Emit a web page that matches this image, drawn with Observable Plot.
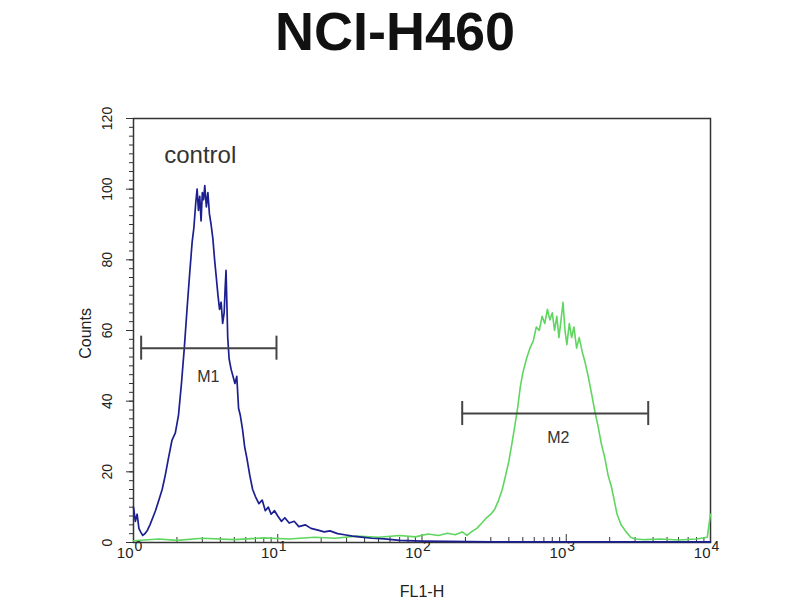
<!DOCTYPE html>
<html>
<head>
<meta charset="utf-8">
<script src="https://cdn.jsdelivr.net/npm/d3@7"></script>
<script src="https://cdn.jsdelivr.net/npm/@observablehq/plot@0.6"></script>
<style>
  body { margin: 0; background: #fff; font-family: "Liberation Sans", Arial, sans-serif; }
  #title { width: 790px; height: 60px; text-align: center; font-weight: bold; font-size: 54px; line-height: 62px; color: #111; overflow: visible; }
  #chart { width: 800px; }
</style>
</head>
<body>
<div id="title">NCI-H460</div>
<div id="chart"></div>
<script>
// control histogram (blue)
const controlX = [1.0,1.03,1.06,1.09,1.12,1.16,1.2,1.25,1.3,1.36,1.42,1.5,1.58,1.66,1.75,1.85,1.95,2.05,2.15,2.25,2.35,2.45,2.55,2.62,2.7,2.76,2.82,2.88,2.94,3.0,3.06,3.12,3.2,3.28,3.36,3.45,3.55,3.65,3.75,3.85,3.95,4.05,4.15,4.25,4.32,4.38,4.45,4.5,4.6,4.75,4.9,5.05,5.2,5.35,5.5,5.7,5.9,6.1,6.4,6.7,7.0,7.4,7.8,8.2,8.6,9.0,9.5,10,10.6,11.2,12,13,14,15.5,17,19,21,23,26,29,33,38,45,55,70,100,150,300,1000,3000,10000]
const controlY = [10,6,8,4,3,2,2.5,3.5,5,7,9,12,15,19,24,29,31,36,45,55,66,76,85,89,96,100,94,98,91,99,97,101,95,99,93,90,86,80,75,70,66,68,62,65,72,77,66,58,52,49,47,45,47,38,36,32,27,24,19,15,13,11,12,9,10,8,9,7.5,6,7,5.5,6,4.5,5,4,3.5,3,3.3,2.5,2.2,1.8,1.5,1.2,1,0.6,0.4,0.3,0.2,0.2,0.2,0.2]

// stained sample histogram (green)
const sampleX = [1.0,1.5,2,3,5,8,12,18,25,35,50,70,90,110,130,150,170,190,205,220,240,260,280,300,320,340,360,380,400,420,440,460,480,500,530,560,590,620,650,680,710,740,770,800,830,860,890,920,950,980,1010,1050,1090,1130,1180,1230,1290,1350,1420,1500,1580,1660,1750,1850,1950,2050,2150,2250,2400,2600,2800,3000,3500,4500,6000,8000,9500,10000]
const sampleY = [0.5,1,0.6,1.2,0.8,1.3,1,1.5,1.2,1.8,1.5,2,1.6,2.4,2,2.6,2.2,3,2,3,4,5.5,7,8,9.5,12,15,19,23,28,33,38,44,48,52,55,57,61,60,64,62,66,63,65,60,64,58,63,68,60,56,62,58,61,55,58,54,51,47,42,37,33,28,24,19,16,12,8,5,3,1.5,1,0.8,1,0.7,1,1.5,8]

// gates
const gateNames = ["M1", "M2"]
const gateStart = [1.13, 190]
const gateEnd = [9.8, 3700]
const gateLevel = [55, 36.5]
const gateLabelX = [3.3, 880]
const gateLabelY = [47, 29.5]

const decades = [1, 10, 100, 1000, 10000]
const exponents = ["0", "1", "2", "3", "4"]
const yTicks = [0, 20, 40, 60, 80, 100, 120]

const control = controlX.map((x, i) => ({x, y: controlY[i]}))
const sample = sampleX.map((x, i) => ({x, y: sampleY[i]}))
const gates = gateNames.map((name, i) => ({name, x1: gateStart[i], x2: gateEnd[i], y: gateLevel[i], lx: gateLabelX[i], ly: gateLabelY[i]}))
const decadeLabels = decades.map((x, i) => ({x, e: exponents[i]}))

const minorX = []
for (let d = 1; d < 10000; d *= 10) for (let k = 2; k <= 9; k++) minorX.push(d * k)
const minorY = d3.range(0, 120.1, 2.5)

const chart = Plot.plot({
  width: 800,
  height: 540,
  marginTop: 58,
  marginBottom: 58,
  marginLeft: 133,
  marginRight: 90,
  style: {fontFamily: "Liberation Sans, Arial, sans-serif", fontSize: "14px", color: "#222"},
  x: {type: "log", domain: [1, 10000], label: null},
  y: {domain: [0, 120], label: null},
  marks: [
    Plot.frame({stroke: "#333", strokeWidth: 1.5}),
    Plot.axisY({ticks: minorY, tickSize: 4, tickFormat: () => "", label: null, stroke: "#333"}),
    Plot.axisY({ticks: yTicks, tickSize: 7, tickRotate: -90, tickPadding: 15, label: null, stroke: "#333"}),
    Plot.axisX({ticks: minorX, tickSize: -5, tickFormat: () => "", label: null, stroke: "#333"}),
    Plot.axisX({ticks: decades, tickSize: -8, tickFormat: () => "", label: null, stroke: "#333"}),
    // decade labels: "10" with a raised exponent
    Plot.text(decadeLabels, {x: "x", text: () => "10", frameAnchor: "bottom", textAnchor: "end", lineAnchor: "bottom", dy: 15, fontSize: 15, fill: "#222"}),
    Plot.text(decadeLabels, {x: "x", text: "e", frameAnchor: "bottom", textAnchor: "start", lineAnchor: "bottom", dx: 1, dy: 8, fontSize: 14, fill: "#222"}),
    Plot.text(["Counts"], {frameAnchor: "left", y: 52, dx: -48, rotate: -90, fontSize: 16, fill: "#222"}),
    Plot.text(["FL1-H"], {frameAnchor: "bottom", x: 100, dy: 54, fontSize: 16, fill: "#222"}),
    Plot.line(sample, {x: "x", y: "y", stroke: "#5fd65f", strokeWidth: 1.6}),
    Plot.line(control, {x: "x", y: "y", stroke: "#1c1f8f", strokeWidth: 1.7}),
    Plot.ruleY(gates, {y: "y", x1: "x1", x2: "x2", stroke: "#444", strokeWidth: 2}),
    Plot.ruleX(gates, {x: "x1", y1: d => d.y - 3.4, y2: d => d.y + 3.4, stroke: "#444", strokeWidth: 2}),
    Plot.ruleX(gates, {x: "x2", y1: d => d.y - 3.4, y2: d => d.y + 3.4, stroke: "#444", strokeWidth: 2}),
    Plot.text(gates, {x: "lx", y: "ly", text: "name", fontSize: 16, fill: "#333"}),
    Plot.text(["control"], {x: 2.9, y: 109.5, fontSize: 24, fill: "#333"})
  ]
})
d3.select("#chart").append(() => chart)
</script>
</body>
</html>
